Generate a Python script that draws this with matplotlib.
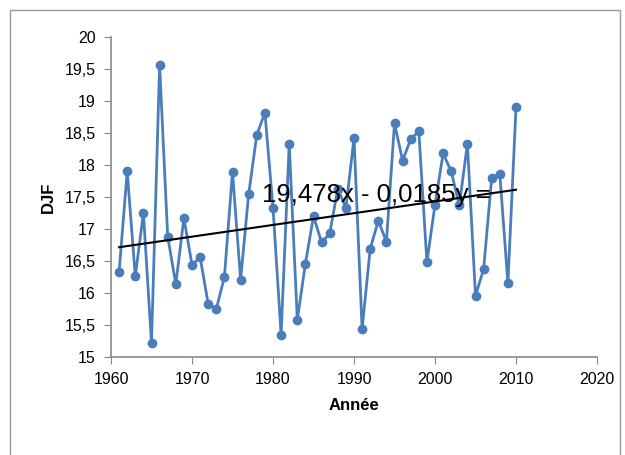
import numpy as np
import matplotlib
matplotlib.use("Agg")
import matplotlib.pyplot as plt
from matplotlib.patches import Rectangle

plt.rcParams['font.family'] = ['Liberation Sans', 'DejaVu Sans']

years = np.arange(1961, 2011)
djf = [16.33, 17.90, 16.26, 17.25, 15.22, 19.56, 16.88, 16.14, 17.17, 16.44,
       16.56, 15.83, 15.75, 16.25, 17.89, 16.21, 17.55, 18.47, 18.82, 17.33,
       15.35, 18.33, 15.58, 16.46, 17.20, 16.79, 16.93, 17.63, 17.33, 18.42,
       15.44, 16.69, 17.13, 16.80, 18.65, 18.07, 18.40, 18.53, 16.48, 17.38,
       18.18, 17.90, 17.37, 18.33, 15.96, 16.37, 17.80, 17.86, 16.15, 18.90]

fig = plt.figure(figsize=(6.25, 4.55), dpi=100)
ax = fig.add_axes([111/625, 1 - 357/455, 486/625, 320/455])

ax.plot(years, djf, color='#4a7ebb', lw=2, marker='o', ms=6, zorder=3)

slope, icpt = np.polyfit(years, djf, 1)
ax.plot(years, slope*years + icpt, color='black', lw=1.5, zorder=4)
ax.text(1978.6, 17.42, "19,478x - 0,0185y = ", fontsize=18.5, zorder=5)

ax.set_xlim(1960, 2020)
ax.set_ylim(15, 20)
ax.set_xticks(range(1960, 2021, 10))
ax.set_yticks(np.arange(15, 20.01, 0.5))
ax.set_yticklabels([f"{v:g}".replace('.', ',') for v in np.arange(15, 20.01, 0.5)])
ax.tick_params(labelsize=11.5, color='#888888', direction='out', length=5, pad=6)
for s in ['top', 'right']:
    ax.spines[s].set_visible(False)
for s in ['left', 'bottom']:
    ax.spines[s].set_color('#888888')
    ax.spines[s].set_linewidth(1.2)

ax.set_xlabel("Année", fontsize=12, fontweight='bold', labelpad=8)
ax.set_ylabel("DJF", fontsize=12, fontweight='bold', labelpad=6)

fig.patches.append(Rectangle((10/625, -0.05), 610/625, 1.05 - 10/455, transform=fig.transFigure,
                             fill=False, edgecolor='#999999', lw=1))

fig.savefig("out.png", dpi=100)
